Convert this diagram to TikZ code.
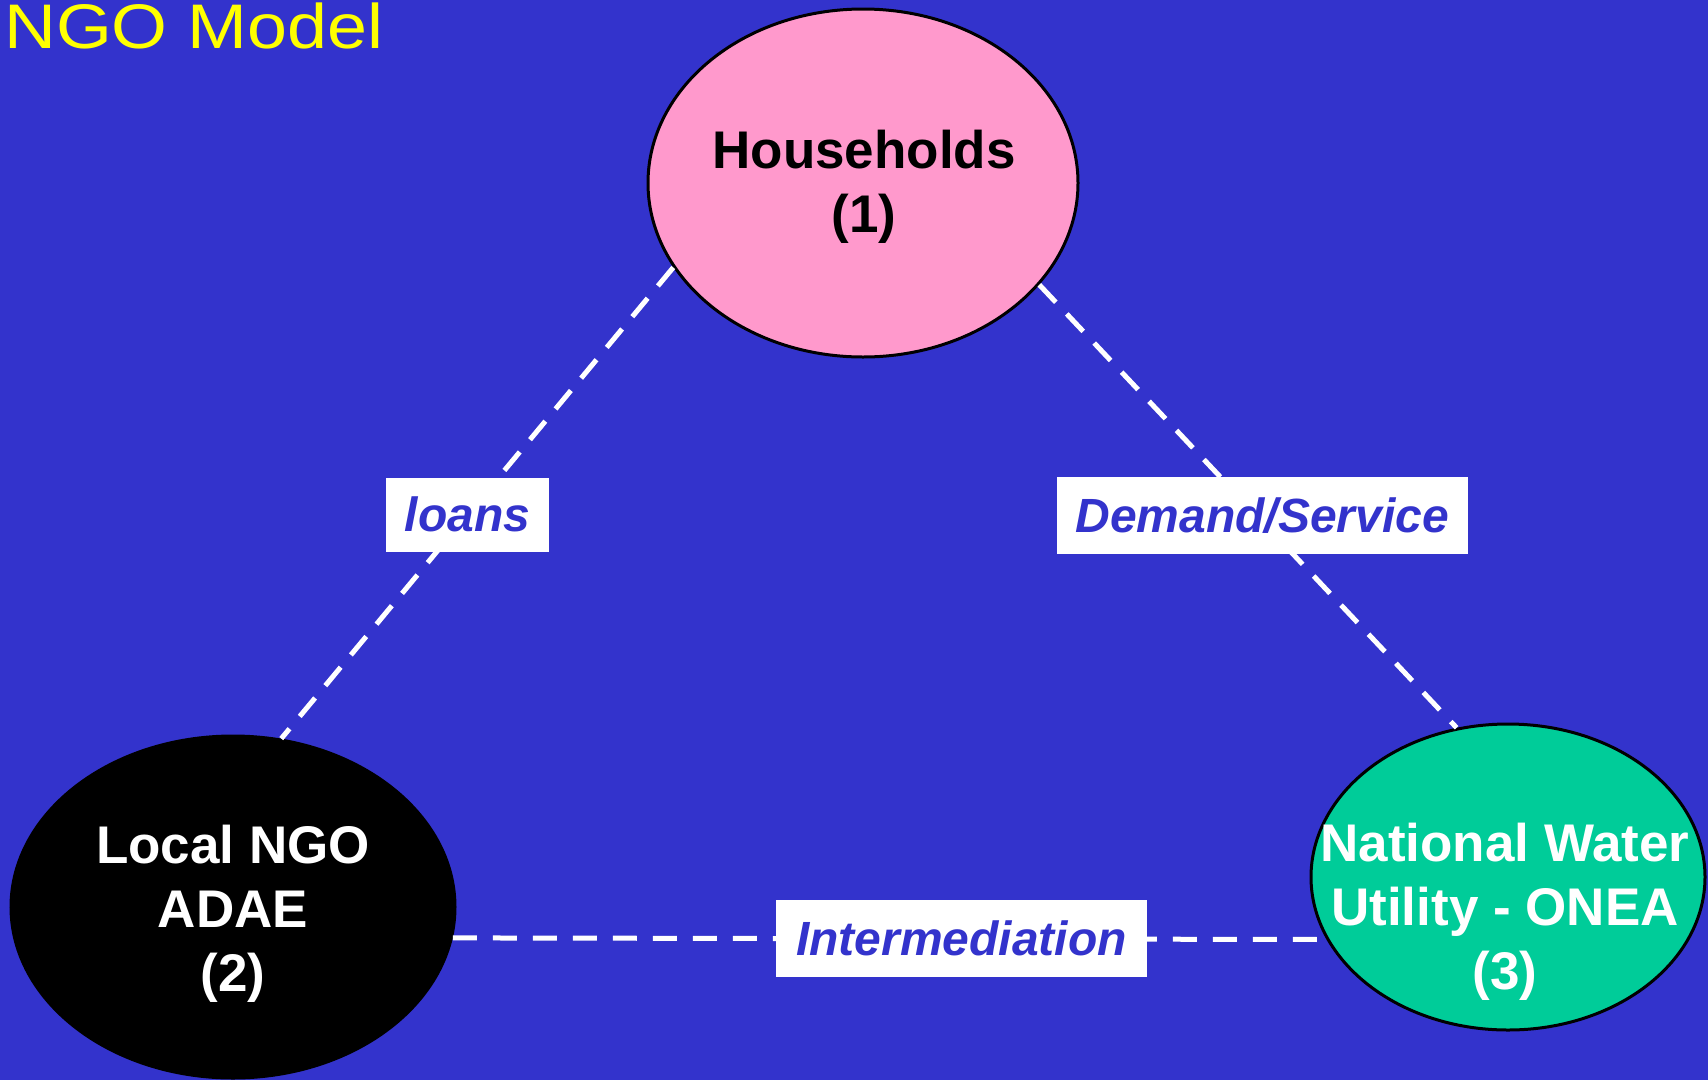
\documentclass[tikz,border=0pt]{standalone}
\usepackage{fontspec}
\usepackage{graphicx}
\setmainfont{Liberation Sans}
\usetikzlibrary{shapes.geometric}
\definecolor{bgblue}{HTML}{3333CC}
\definecolor{pinkfill}{HTML}{FF99CC}
\definecolor{greenfill}{HTML}{00CC99}
\definecolor{titleyellow}{HTML}{FFFF00}
\tikzset{
  blob/.style={ellipse, draw=black, line width=3pt, inner sep=0pt},
  bigtext/.style={align=center, font=\bfseries\fontsize{53}{64}\selectfont, inner sep=0pt},
  lbl/.style={fill=white, inner sep=0pt, text=bgblue, font=\bfseries\itshape\fontsize{48}{50}\selectfont},
  conn/.style={draw=white, line width=5pt, dash pattern=on 24pt off 16pt},
}
\begin{document}
\begin{tikzpicture}[x=1pt,y=-1pt]
\fill[bgblue] (0,0) rectangle (1708,1080);
\useasboundingbox (0,0) rectangle (1708,1080);
% title
\node[anchor=base west, inner sep=0pt, text=titleyellow, font=\fontsize{63}{70}\selectfont] (title) at (4,48) {\scalebox{1.14}[1]{NGO Model}};
% ellipses
\node[blob, fill=pinkfill, minimum width=430pt, minimum height=348pt] (hh) at (863,183) {};
\node[blob, fill=black, minimum width=444pt, minimum height=342pt] (ngo) at (233,907) {};
\node[blob, fill=greenfill, minimum width=394pt, minimum height=306pt] (nwu) at (1508,877) {};
% texts
\node[bigtext, text=black] (hht) at (864,187) {Households\\(1)};
\node[bigtext, text=white] (ngot) at (233,914) {Local NGO\\ADAE\\(2)};
\node[bigtext, text=white] (nwut) at (1505,912) {National Water\\Utility - ONEA\\(3)};
% connectors
\draw[conn] (hh.204.6) -- node[lbl, pos=0.525, minimum width=163pt, minimum height=74pt] (loans) {loans} (ngo.74.8);
\draw[conn] (hh.330.5) -- node[lbl, pos=0.52, xshift=6pt, minimum width=411pt, minimum height=77pt] (dem) {Demand/Service} (nwu.109.7);
\draw[conn] (ngo.352) -- node[lbl, pos=0.58, xshift=2pt, minimum width=371pt, minimum height=77pt] (inter) {Intermediation} (nwu.199);
\end{tikzpicture}
\end{document}
